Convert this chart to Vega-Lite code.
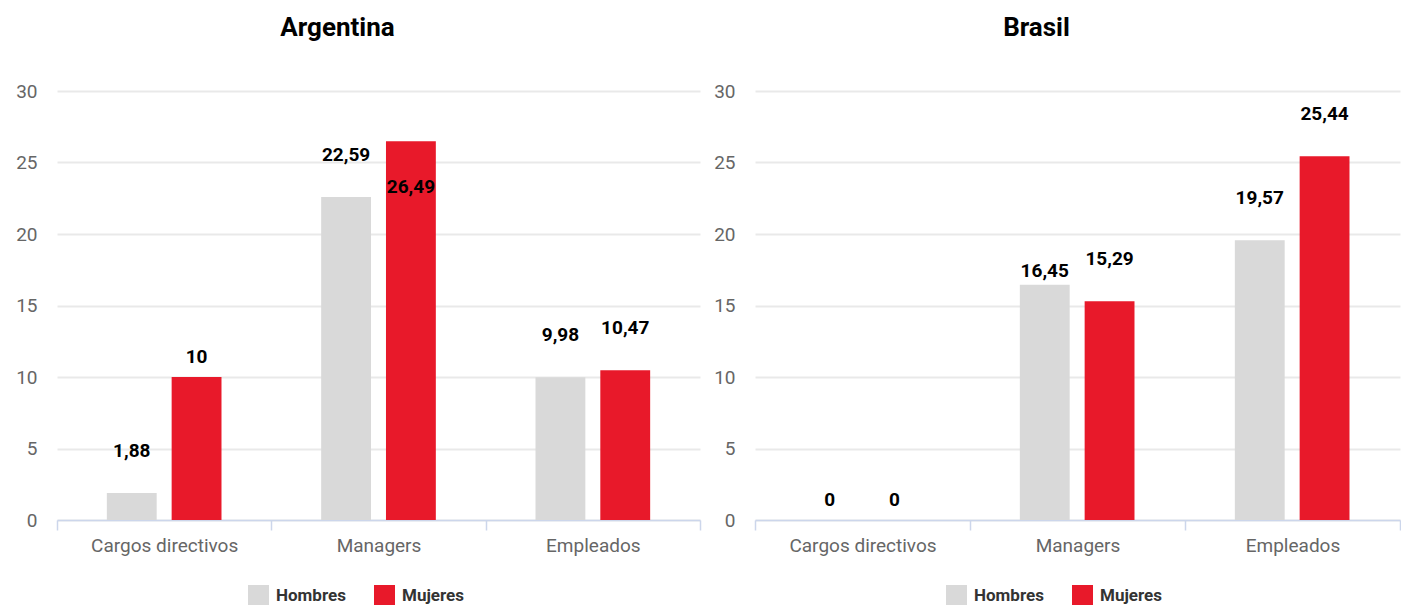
{
  "$schema": "https://vega.github.io/schema/vega-lite/v6.json",
  "background": "white",
  "padding": {"left": 15, "top": 15, "right": 0, "bottom": 0},
  "spacing": 12,
  "config": {
    "font": "Roboto",
    "view": {"stroke": null},
    "locale": {"number": {"decimal": ",", "thousands": ".", "grouping": [3], "currency": ["", " €"]}},
    "title": {"fontSize": 26, "fontWeight": "bold", "color": "#000000", "anchor": "middle", "dx": -41, "offset": 41},
    "axisX": {
      "domainColor": "#ccd6eb", "domainWidth": 1.5, "tickColor": "#ccd6eb", "tickWidth": 1.5, "tickSize": 10,
      "tickBand": "extent", "labelFontSize": 19, "labelColor": "#666666", "labelPadding": 6, "labelAngle": 0,
      "title": null, "grid": false
    },
    "axisY": {
      "domain": false, "ticks": false, "labelFontSize": 19, "labelColor": "#666666", "labelPadding": 20,
      "labelOverlap": false, "gridColor": "#e9e9e9", "gridWidth": 2, "title": null
    },
    "legend": {
      "orient": "none", "direction": "horizontal", "legendX": 191, "legendY": 494, "title": null,
      "symbolType": "square", "symbolSize": 441, "symbolStrokeWidth": 0, "labelFontSize": 17,
      "labelFontWeight": "bold", "labelColor": "#333333", "labelOffset": 7, "columnPadding": 28
    }
  },
  "data": {
    "values": [
      {"pais": "Argentina", "cargo": "Cargos directivos", "sexo": "Hombres", "valor": 1.88},
      {"pais": "Argentina", "cargo": "Cargos directivos", "sexo": "Mujeres", "valor": 10},
      {"pais": "Argentina", "cargo": "Managers", "sexo": "Hombres", "valor": 22.59},
      {"pais": "Argentina", "cargo": "Managers", "sexo": "Mujeres", "valor": 26.49},
      {"pais": "Argentina", "cargo": "Empleados", "sexo": "Hombres", "valor": 9.98},
      {"pais": "Argentina", "cargo": "Empleados", "sexo": "Mujeres", "valor": 10.47},
      {"pais": "Brasil", "cargo": "Cargos directivos", "sexo": "Hombres", "valor": 0},
      {"pais": "Brasil", "cargo": "Cargos directivos", "sexo": "Mujeres", "valor": 0},
      {"pais": "Brasil", "cargo": "Managers", "sexo": "Hombres", "valor": 16.45},
      {"pais": "Brasil", "cargo": "Managers", "sexo": "Mujeres", "valor": 15.29},
      {"pais": "Brasil", "cargo": "Empleados", "sexo": "Hombres", "valor": 19.57},
      {"pais": "Brasil", "cargo": "Empleados", "sexo": "Mujeres", "valor": 25.44}
    ]
  },
  "resolve": {"legend": {"color": "independent"}},
  "hconcat": [
    {
      "width": 643,
      "height": 429,
      "title": "Argentina",
      "transform": [{"filter": "datum.pais == 'Argentina'"}],
      "encoding": {
        "x": {"field": "cargo", "type": "nominal", "sort": ["Cargos directivos", "Managers", "Empleados"],
              "scale": {"paddingInner": 0, "paddingOuter": 0}},
        "xOffset": {"field": "sexo", "type": "nominal", "sort": ["Hombres", "Mujeres"],
                    "scale": {"paddingInner": 0.2308, "paddingOuter": 0.769}},
        "y": {"field": "valor", "type": "quantitative", "scale": {"domain": [0, 30], "nice": false},
              "axis": {"values": [0, 5, 10, 15, 20, 25, 30]}}
      },
      "layer": [
        {
          "mark": {"type": "bar"},
          "encoding": {
            "color": {"field": "sexo", "type": "nominal", "sort": ["Hombres", "Mujeres"],
                      "scale": {"domain": ["Hombres", "Mujeres"], "range": ["#d9d9d9", "#e8192a"]}}
          }
        },
        {
          "mark": {"type": "text", "fontSize": 19, "fontWeight": "bold", "color": "#000000", "baseline": "middle",
                   "dy": {"expr": "datum.valor == 0 || datum.valor == 10 ? -20 : datum.valor == 26.49 ? 46 : datum.valor == 16.45 ? -14 : -42"}},
          "encoding": {"text": {"field": "valor", "type": "quantitative", "format": ".2~f"}}
        }
      ]
    },
    {
      "width": 645,
      "height": 429,
      "title": "Brasil",
      "transform": [{"filter": "datum.pais == 'Brasil'"}],
      "encoding": {
        "x": {"field": "cargo", "type": "nominal", "sort": ["Cargos directivos", "Managers", "Empleados"],
              "scale": {"paddingInner": 0, "paddingOuter": 0}},
        "xOffset": {"field": "sexo", "type": "nominal", "sort": ["Hombres", "Mujeres"],
                    "scale": {"paddingInner": 0.2308, "paddingOuter": 0.769}},
        "y": {"field": "valor", "type": "quantitative", "scale": {"domain": [0, 30], "nice": false},
              "axis": {"values": [0, 5, 10, 15, 20, 25, 30]}}
      },
      "layer": [
        {
          "mark": {"type": "bar"},
          "encoding": {
            "color": {"field": "sexo", "type": "nominal", "sort": ["Hombres", "Mujeres"],
                      "scale": {"domain": ["Hombres", "Mujeres"], "range": ["#d9d9d9", "#e8192a"]}}
          }
        },
        {
          "mark": {"type": "text", "fontSize": 19, "fontWeight": "bold", "color": "#000000", "baseline": "middle",
                   "dy": {"expr": "datum.valor == 0 || datum.valor == 10 ? -20 : datum.valor == 26.49 ? 46 : datum.valor == 16.45 ? -14 : -42"}},
          "encoding": {"text": {"field": "valor", "type": "quantitative", "format": ".2~f"}}
        }
      ]
    }
  ]
}
